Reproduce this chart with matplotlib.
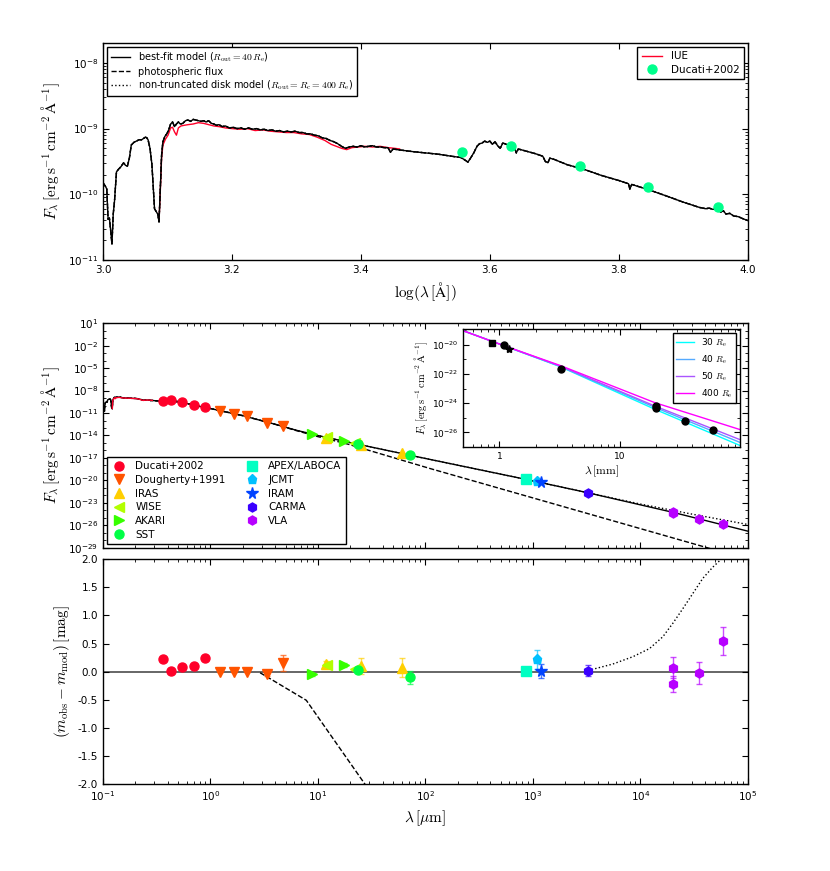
import numpy as np
import matplotlib
matplotlib.use('Agg')
import matplotlib.pyplot as plt
from matplotlib import cm
from matplotlib.ticker import FixedLocator, NullFormatter, FormatStrFormatter, FuncFormatter

plt.rcParams['font.family'] = ['DejaVu Sans']
plt.rcParams['font.size'] = 7.5
plt.rcParams['axes.linewidth'] = 1.0
plt.rcParams['lines.linewidth'] = 1.0

# ---------------- top panel: UV/optical spectrum (log lambda [A], log F) ----------------
spec_loglam = [3.000, 3.004, 3.006, 3.008, 3.010, 3.012, 3.014, 3.016, 3.018, 3.021, 3.024, 3.028,
               3.032, 3.035, 3.038, 3.041, 3.044, 3.048, 3.052, 3.056, 3.060, 3.063, 3.066, 3.068,
               3.070, 3.073, 3.076, 3.078, 3.080, 3.083, 3.085, 3.087, 3.089, 3.091, 3.093, 3.096,
               3.099, 3.102, 3.105, 3.108, 3.111, 3.114, 3.117, 3.120, 3.124, 3.128, 3.132, 3.136,
               3.140, 3.144, 3.148, 3.152, 3.156, 3.160, 3.164, 3.168, 3.172, 3.176, 3.180, 3.185,
               3.190, 3.196, 3.202, 3.208, 3.214, 3.220, 3.226, 3.232, 3.238, 3.244, 3.250, 3.256,
               3.262, 3.268, 3.274, 3.280, 3.286, 3.292, 3.298, 3.304, 3.310, 3.316, 3.322, 3.328,
               3.334, 3.340, 3.346, 3.352, 3.358, 3.364, 3.370, 3.376, 3.382, 3.388, 3.394, 3.400,
               3.406, 3.412, 3.418, 3.424, 3.430, 3.436, 3.442, 3.446, 3.450, 3.456, 3.464, 3.480,
               3.500, 3.520, 3.540, 3.555, 3.560, 3.566, 3.570, 3.575, 3.580, 3.584, 3.588, 3.592,
               3.596, 3.600, 3.604, 3.608, 3.612, 3.616, 3.620, 3.626, 3.632, 3.638, 3.641, 3.644,
               3.655, 3.670, 3.682, 3.686, 3.690, 3.693, 3.700, 3.720, 3.746, 3.772, 3.800, 3.815,
               3.817, 3.820, 3.849, 3.875, 3.900, 3.925, 3.935, 3.940, 3.946, 3.952, 3.958, 3.962,
               3.966, 3.972, 3.978, 3.985, 3.992, 4.000]
spec_logf = [-9.82, -9.88, -9.92, -10.38, -10.36, -10.55, -10.76, -10.30, -10.10, -9.66, -9.62, -9.58,
             -9.52, -9.56, -9.57, -9.45, -9.25, -9.21, -9.19, -9.17, -9.17, -9.15, -9.13, -9.14,
             -9.17, -9.30, -9.55, -9.90, -10.22, -10.27, -10.30, -10.42, -9.90, -9.40, -9.20, -9.12,
             -9.08, -9.02, -8.93, -8.90, -8.97, -8.93, -8.90, -8.93, -8.92, -8.88, -8.87, -8.89,
             -8.86, -8.87, -8.88, -8.89, -8.88, -8.90, -8.88, -8.92, -8.93, -8.95, -8.94, -8.97,
             -8.96, -8.99, -8.98, -9.00, -8.99, -9.01, -8.99, -9.01, -9.00, -9.02, -9.01, -9.03,
             -9.02, -9.04, -9.03, -9.05, -9.04, -9.05, -9.04, -9.06, -9.06, -9.08, -9.08, -9.10,
             -9.11, -9.14, -9.15, -9.18, -9.20, -9.23, -9.27, -9.30, -9.28, -9.27, -9.28, -9.26,
             -9.28, -9.27, -9.26, -9.28, -9.28, -9.29, -9.29, -9.36, -9.31, -9.32, -9.33, -9.35,
             -9.37, -9.39, -9.42, -9.44, -9.47, -9.51, -9.45, -9.37, -9.27, -9.23, -9.22, -9.19,
             -9.21, -9.19, -9.24, -9.20, -9.26, -9.30, -9.22, -9.24, -9.26, -9.29, -9.37, -9.31,
             -9.34, -9.38, -9.42, -9.50, -9.52, -9.45, -9.47, -9.55, -9.62, -9.71, -9.79, -9.84,
             -9.92, -9.85, -9.94, -10.03, -10.12, -10.20, -10.22, -10.21, -10.23, -10.22, -10.27, -10.25,
             -10.30, -10.29, -10.33, -10.34, -10.37, -10.40]

iue_loglam = [3.087, 3.089, 3.091, 3.093, 3.097, 3.101, 3.105, 3.108, 3.111, 3.114, 3.117, 3.121,
              3.126, 3.132, 3.140, 3.148, 3.156, 3.164, 3.172, 3.180, 3.190, 3.200, 3.212, 3.224,
              3.236, 3.248, 3.260, 3.272, 3.284, 3.296, 3.308, 3.320, 3.332, 3.344, 3.354, 3.362,
              3.370, 3.378, 3.386, 3.396, 3.406, 3.418, 3.430, 3.442, 3.452, 3.460]
iue_logf = [-10.40, -9.95, -9.45, -9.25, -9.16, -9.10, -8.99, -8.98, -9.05, -9.10, -8.99, -8.96,
            -8.95, -8.94, -8.93, -8.91, -8.92, -8.94, -8.96, -8.97, -8.99, -9.00, -9.01, -9.00,
            -9.03, -9.02, -9.04, -9.05, -9.06, -9.06, -9.08, -9.09, -9.13, -9.18, -9.24, -9.27,
            -9.30, -9.32, -9.29, -9.28, -9.27, -9.28, -9.27, -9.29, -9.30, -9.31]

# ---------------- photometry: wavelength [micron], log F, residual [mag], error ----------------
duc_lam = [0.36, 0.43, 0.55, 0.70, 0.90]
duc_logf = [-9.36, -9.26, -9.57, -9.89, -10.19]
duc_res = [0.23, 0.01, 0.09, 0.10, 0.24]
duc_err = [0.0, 0.0, 0.0, 0.0, 0.0]

dou_lam = [1.24, 1.65, 2.18, 3.38, 4.76]
dou_logf = [-10.75, -11.10, -11.46, -12.31, -12.71]
dou_res = [0.0, 0.0, 0.0, -0.05, 0.16]
dou_err = [0.0, 0.0, 0.0, 0.03, 0.14]

iras_lam = [12.0, 25.0, 60.0]
iras_logf = [-14.30, -15.29, -16.36]
iras_res = [0.13, 0.10, 0.07]
iras_err = [0.06, 0.14, 0.17]

wise_lam = [12.1, 22.1]
wise_logf = [-14.22, -15.02]
wise_res = [0.12, 0.04]
wise_err = [0.05, 0.03]

akari_lam = [8.85, 17.5]
akari_logf = [-13.86, -14.75]
akari_res = [-0.05, 0.12]
akari_err = [0.02, 0.03]

sst_lam = [23.7, 71.5]
sst_logf = [-15.11, -16.64]
sst_res = [0.03, -0.10]
sst_err = [0.02, 0.12]

apex_lam = [870.0]
apex_logf = [-19.87]
apex_res = [0.02]
apex_err = [0.03]

jcmt_lam = [1100.0]
jcmt_logf = [-20.05]
jcmt_res = [0.22]
jcmt_err = [0.17]

iram_lam = [1200.0]
iram_logf = [-20.27]
iram_res = [0.01]
iram_err = [0.12]

carma_lam = [3260.0]
carma_logf = [-21.65]
carma_res = [0.02]
carma_err = [0.10]

vla_lam = [20000.0, 20000.0, 35000.0, 59000.0]
vla_logf = [-24.22, -24.34, -25.21, -25.84]
vla_res = [0.07, -0.22, -0.02, 0.55]
vla_err = [0.19, 0.14, 0.20, 0.25]

# ---------------- model continuation beyond 1 micron ----------------
fit_lam = [2.0, 4.0, 6.3, 10.0, 20.0, 71.0, 870.0, 3260.0, 20000.0, 100000.0]
fit_logf = [-11.35, -12.50, -13.30, -14.00, -14.95, -16.62, -19.87, -21.65, -24.25, -26.77]
phot_lam = [2.0, 4.0, 6.3, 10.0, 19.0, 110.0, 1000.0, 10000.0, 100000.0]
phot_logf = [-11.35, -12.50, -13.35, -14.15, -15.15, -18.40, -22.33, -26.43, -30.53]
full_lam = [3260.0, 10000.0, 31600.0, 100000.0]
full_logf = [-21.65, -23.15, -24.55, -25.88]

# residual curves
phot_res_lam = [2.9, 3.7, 7.8, 28.5]
phot_res = [-0.02, -0.14, -0.51, -2.05]
full_res_lam = [3260.0, 3750.0, 5545.0, 8510.0, 12160.0, 16180.0, 20050.0, 24830.0, 30760.0,
                38110.0, 47210.0, 56480.0]
full_res = [0.02, 0.05, 0.135, 0.265, 0.41, 0.62, 0.86, 1.12, 1.39, 1.66, 1.86, 2.0]

# inset models: wavelength [mm], log F
ins_lam = [0.5, 1.0, 3.2, 19.5, 100.0]
ins_r30 = [-19.04, -19.95, -21.50, -24.41, -26.90]
ins_r40 = [-19.04, -19.95, -21.48, -24.28, -26.69]
ins_r50 = [-19.04, -19.95, -21.46, -24.19, -26.50]
ins_r400 = [-19.04, -19.95, -21.42, -23.96, -25.81]
ins_labels = ['30', '40', '50', '400']

survey_names = ['Ducati+2002', 'Dougherty+1991', 'IRAS', 'WISE', 'AKARI', 'SST',
                'APEX/LABOCA', 'JCMT', 'IRAM', 'CARMA', 'VLA']
survey_markers = ['o', 'v', '^', '<', '>', 'o', 's', 'p', '*', 'h', 'h']
survey_lam = [duc_lam, dou_lam, iras_lam, wise_lam, akari_lam, sst_lam,
              apex_lam, jcmt_lam, iram_lam, carma_lam, vla_lam]
survey_logf = [duc_logf, dou_logf, iras_logf, wise_logf, akari_logf, sst_logf,
               apex_logf, jcmt_logf, iram_logf, carma_logf, vla_logf]
survey_res = [duc_res, dou_res, iras_res, wise_res, akari_res, sst_res,
              apex_res, jcmt_res, iram_res, carma_res, vla_res]
survey_err = [duc_err, dou_err, iras_err, wise_err, akari_err, sst_err,
              apex_err, jcmt_err, iram_err, carma_err, vla_err]
colors = cm.gist_rainbow(np.linspace(0, 0.9, len(survey_names)))

red = cm.gist_rainbow(0.0)
green = cm.gist_rainbow(0.5)

flux_label = r'$F_\lambda\,[\mathrm{erg\,s^{-1}\,cm^{-2}\,\AA^{-1}}]$'


def style_axes(ax, size=7.5):
    ax.tick_params(which='both', direction='in', top=True, right=True, labelsize=size)
    ax.tick_params(which='major', length=4)
    ax.tick_params(which='minor', length=2)


def cm_legend(leg):
    for t in leg.get_texts():
        t.set_math_fontfamily('cm')


fig = plt.figure(figsize=(8.3, 8.71), dpi=100)
ax1 = fig.add_axes([0.124, 0.7015, 0.777, 0.249])
ax2 = fig.add_axes([0.124, 0.371, 0.777, 0.258])
ax3 = fig.add_axes([0.124, 0.0999, 0.777, 0.258])
axin = fig.add_axes([0.558, 0.4868, 0.3337, 0.1355])

# ---------------- top panel ----------------
sf = 10.0 ** np.array(spec_logf)
l1, = ax1.plot(spec_loglam, sf, 'k:', lw=1)
l2, = ax1.plot(spec_loglam, sf, 'k--', lw=1)
l3, = ax1.plot(spec_loglam, sf, 'k-', lw=1)
l4, = ax1.plot(iue_loglam, 10.0 ** np.array(iue_logf), '-', color=red, lw=1, zorder=1.5)
l5, = ax1.plot(np.log10(np.array(duc_lam) * 1e4), 10.0 ** np.array(duc_logf), 'o',
               color=green, mec=green, ms=6.5, zorder=3)
ax1.set_yscale('log')
ax1.set_xlim(3.0, 4.0)
ax1.set_ylim(1e-11, 2e-8)
ax1.xaxis.set_major_locator(FixedLocator([3.0, 3.2, 3.4, 3.6, 3.8, 4.0]))
ax1.xaxis.set_major_formatter(FormatStrFormatter('%.1f'))
style_axes(ax1)
ax1.set_xlabel(r'$\log(\lambda\,[\mathrm{\AA}])$', fontsize=11, math_fontfamily='cm')
ax1.set_ylabel(flux_label, fontsize=11, math_fontfamily='cm')
leg1 = ax1.legend([l3, l2, l1],
                  [r'best-fit model ($R_{\rm out}=40\,R_{\rm e}$)', 'photospheric flux',
                   r'non-truncated disk model ($R_{\rm out}=R_{\rm c}=400\,R_{\rm e}$)'],
                  loc='upper left', fontsize=7, fancybox=False, edgecolor='k', framealpha=1,
                  borderaxespad=0.4, labelspacing=0.25)
leg1.get_frame().set_linewidth(1.0)
cm_legend(leg1)
ax1.add_artist(leg1)
leg2 = ax1.legend([l4, l5], ['IUE', 'Ducati+2002'], loc='upper right', fontsize=7.5,
                  numpoints=1, fancybox=False, edgecolor='k', framealpha=1, borderaxespad=0.4,
                  labelspacing=0.3)
leg2.get_frame().set_linewidth(1.0)

# ---------------- middle panel ----------------
lam_um = 10.0 ** (np.array(spec_loglam) - 4)
ax2.plot(np.concatenate([lam_um, phot_lam]), 10.0 ** np.concatenate([spec_logf, phot_logf]),
         'k--', lw=1)
ax2.plot(np.concatenate([lam_um, fit_lam[:7], full_lam]),
         10.0 ** np.concatenate([spec_logf, fit_logf[:7], full_logf]), 'k:', lw=1)
ax2.plot(np.concatenate([lam_um, fit_lam]), 10.0 ** np.concatenate([spec_logf, fit_logf]),
         'k-', lw=1)
ax2.plot(10.0 ** (np.array(iue_loglam) - 4), 10.0 ** np.array(iue_logf), '-', color=red, lw=1)
handles = []
for name, mk, lam, lf, c in zip(survey_names, survey_markers, survey_lam, survey_logf, colors):
    ms = 8.5 if mk == '*' else 6.5
    h, = ax2.plot(lam, 10.0 ** np.array(lf), mk, color=c, mec=c, ms=ms, zorder=3, label=name)
    handles.append(h)
ax2.set_xscale('log')
ax2.set_yscale('log')
ax2.set_xlim(0.1, 1e5)
ax2.set_ylim(1e-29, 1e1)
ax2.yaxis.set_major_locator(FixedLocator(10.0 ** np.arange(-29, 2, 3)))
ax2.yaxis.set_minor_locator(FixedLocator(10.0 ** np.arange(-29, 2, 1)))
ax2.yaxis.set_minor_formatter(NullFormatter())
ax2.xaxis.set_major_formatter(NullFormatter())
ax2.xaxis.set_minor_formatter(NullFormatter())
style_axes(ax2)
ax2.set_ylabel(flux_label, fontsize=11, math_fontfamily='cm')
leg3 = ax2.legend(handles=handles, loc='lower left', ncol=2, fontsize=7.5, numpoints=1,
                  fancybox=False, edgecolor='k', framealpha=1, handlelength=1.5,
                  columnspacing=1.8, borderaxespad=0.4, labelspacing=0.35)
leg3.get_frame().set_linewidth(1.0)

# ---------------- inset ----------------
for vals, lab, c in zip([ins_r30, ins_r40, ins_r50, ins_r400], ins_labels,
                        cm.cool(np.linspace(0, 1, 4))):
    axin.plot(ins_lam, 10.0 ** np.array(vals), '-', color=c, lw=1,
              label=lab + r' $R_{\rm e}$')
for mk, lam, lf, err in zip(survey_markers[6:], survey_lam[6:], survey_logf[6:], survey_err[6:]):
    ms = 6 if mk == '*' else 5
    if mk == 'p' or mk == 'h':
        mk = 'o'
    axin.plot(np.array(lam) / 1000.0, 10.0 ** np.array(lf), mk, color='k', mec='k', ms=ms, zorder=3)
axin.set_xscale('log')
axin.set_yscale('log')
axin.set_xlim(0.5, 100)
axin.set_ylim(1e-27, 1.2e-19)
axin.yaxis.set_major_locator(FixedLocator([1e-26, 1e-24, 1e-22, 1e-20]))
axin.yaxis.set_minor_locator(FixedLocator(10.0 ** np.arange(-27, -18, 1)))
axin.yaxis.set_minor_formatter(NullFormatter())
axin.xaxis.set_major_locator(FixedLocator([1, 10]))
axin.xaxis.set_major_formatter(FuncFormatter(lambda v, p: '%d' % v))
axin.xaxis.set_minor_formatter(NullFormatter())
style_axes(axin, size=6.5)
axin.set_xlabel(r'$\lambda\,[\mathrm{mm}]$', fontsize=8.5, math_fontfamily='cm', labelpad=2)
axin.set_ylabel(flux_label, fontsize=7.5, math_fontfamily='cm', labelpad=1)
leg4 = axin.legend(loc='upper right', fontsize=6.5, fancybox=False, edgecolor='k',
                   framealpha=1, borderaxespad=0.4)
leg4.get_frame().set_linewidth(1.0)
cm_legend(leg4)

# ---------------- residual panel ----------------
ax3.axhline(0.0, color='0.3', lw=1.2, zorder=1)
ax3.plot(phot_res_lam, phot_res, 'k--', lw=1)
ax3.plot(full_res_lam, full_res, 'k:', lw=1)
for mk, lam, res, err, c in zip(survey_markers, survey_lam, survey_res, survey_err, colors):
    ms = 8.5 if mk == '*' else 6.5
    e = np.array(err)
    if e.max() > 0:
        ax3.errorbar(lam, res, yerr=e, fmt='none', ecolor=c, alpha=0.7, capsize=2.5,
                     elinewidth=1, zorder=2)
    ax3.plot(lam, res, mk, color=c, mec=c, ms=ms, zorder=3)
ax3.set_xscale('log')
ax3.set_xlim(0.1, 1e5)
ax3.set_ylim(-2.0, 2.0)
ax3.yaxis.set_major_locator(FixedLocator(np.arange(-2.0, 2.01, 0.5)))
ax3.yaxis.set_major_formatter(FormatStrFormatter('%.1f'))
style_axes(ax3)
ax3.set_xlabel(r'$\lambda\,[\mu\mathrm{m}]$', fontsize=11, math_fontfamily='cm')
ax3.set_ylabel(r'$(m_{\rm obs}-m_{\rm mod})\,[\mathrm{mag}]$', fontsize=11, math_fontfamily='cm')

fig.savefig('out.png', dpi=100)
